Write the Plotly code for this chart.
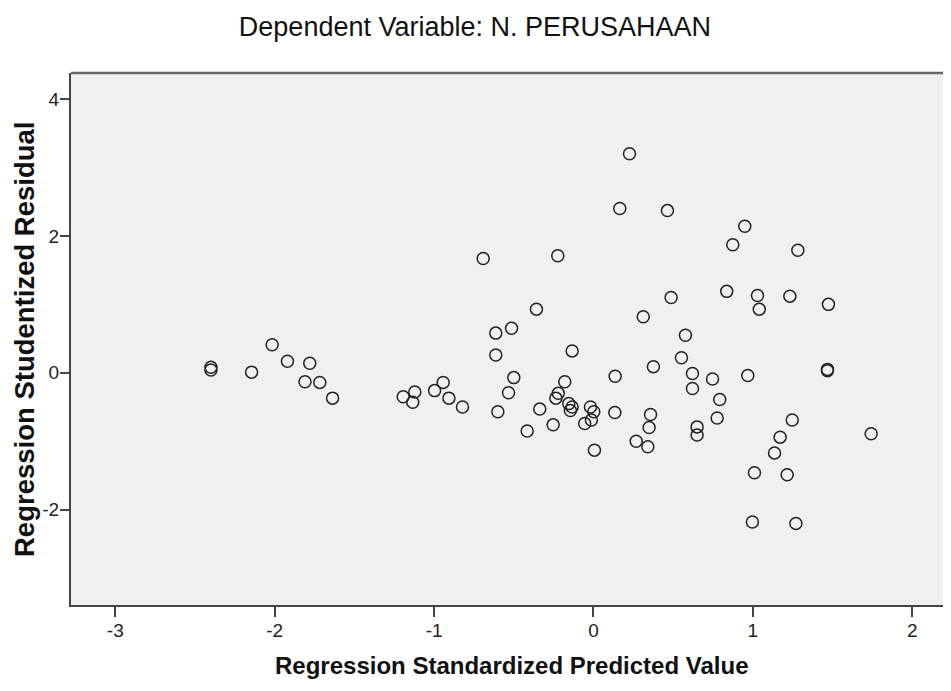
import plotly.graph_objects as go

# Regression Standardized Predicted Value (x) and Studentized Residual (y)
pred = [-2.40, -2.40, -2.145, -2.016, -1.92, -1.78, -1.81, -1.717, -1.637,
        -1.194, -1.121, -1.134, -0.997, -0.943, -0.907, -0.822,
        -0.613, -0.514, -0.613, -0.50, -0.533, -0.60, -0.416, -0.692,
        -0.224, -0.358, -0.134, -0.337, -0.253, -0.18, -0.221, -0.236,
        -0.155, -0.134, -0.145, -0.019, 0.002, -0.055, -0.013, 0.006,
        0.136, 0.134, 0.376, 0.358, 0.349, 0.268, 0.341, 0.552, 0.577,
        0.621, 0.621, 0.747, 0.792, 0.776, 0.65, 0.65, 0.968, 1.247,
        1.171, 1.136, 1.01, 1.215, 0.997, 1.27, 1.468, 1.468, 1.742,
        0.226, 0.165, 0.464, 0.949, 0.874, 1.282, 0.836, 1.029, 1.04,
        1.232, 1.474, 0.487, 0.312]
resid = [0.08, 0.04, 0.01, 0.41, 0.17, 0.14, -0.13, -0.14, -0.37,
         -0.35, -0.28, -0.43, -0.26, -0.14, -0.37, -0.50,
         0.58, 0.65, 0.26, -0.07, -0.29, -0.57, -0.85, 1.67,
         1.71, 0.93, 0.32, -0.53, -0.76, -0.13, -0.30, -0.37,
         -0.45, -0.50, -0.55, -0.50, -0.57, -0.74, -0.69, -1.13,
         -0.05, -0.58, 0.09, -0.61, -0.80, -1.00, -1.08, 0.22, 0.55,
         -0.01, -0.23, -0.09, -0.39, -0.66, -0.79, -0.91, -0.04, -0.69,
         -0.94, -1.17, -1.46, -1.49, -2.18, -2.20, 0.05, 0.03, -0.89,
         3.20, 2.40, 2.37, 2.14, 1.87, 1.79, 1.19, 1.13, 0.93,
         1.12, 1.00, 1.10, 0.82]

x_ticks = [-3, -2, -1, 0, 1, 2]
y_ticks = [-2, 0, 2, 4]

title_text = "Dependent Variable: N. PERUSAHAAN"
x_title = "Regression Standardized Predicted Value"
y_title = "Regression Studentized Residual"

FONT = "Liberation Sans, Arial, sans-serif"

fig = go.Figure()
fig.add_trace(go.Scatter(
    x=pred, y=resid, mode="markers",
    marker=dict(symbol="circle-open", size=12, color="#222222",
                line=dict(width=1.5, color="#222222")),
    hoverinfo="skip", showlegend=False))

# page body has an 8px margin: figure is 943x683 so it fits the 951x691 window
fig.update_layout(
    width=943, height=683,
    margin=dict(l=63, r=0, t=65, b=86),
    paper_bgcolor="white", plot_bgcolor="#f0f0f0",
    font=dict(family=FONT, color="#222222"),
    title=dict(text=title_text, xref="container", x=0.4952, xanchor="center",
               yref="container", y=0.973, yanchor="middle",
               font=dict(family=FONT, size=27, color="#111111")),
    xaxis=dict(range=[-3.278, 2.243], tickvals=x_ticks,
               ticktext=[str(v) for v in x_ticks],
               showgrid=False, zeroline=False,
               showline=True, linecolor="#444444", linewidth=2,
               ticks="outside", ticklen=10, tickwidth=1.5, tickcolor="#444444",
               ticklabelstandoff=-3,
               tickfont=dict(family=FONT, size=19, color="#222222")),
    yaxis=dict(range=[-3.392, 4.380], tickvals=y_ticks,
               ticktext=[str(v) for v in y_ticks],
               showgrid=False, zeroline=False,
               showline=True, linecolor="#444444", linewidth=2,
               ticks="outside", ticklen=9, tickwidth=1.5, tickcolor="#444444",
               ticklabelstandoff=-3,
               tickfont=dict(family=FONT, size=19, color="#222222")),
    annotations=[
        dict(text="<b>" + x_title + "</b>", xref="paper", yref="paper",
             x=0.5, y=-0.113, xanchor="center", yanchor="middle",
             showarrow=False, font=dict(family=FONT, size=24, color="#111111")),
        dict(text="<b>" + y_title + "</b>", xref="paper", yref="paper",
             x=-0.0534, y=0.5, xanchor="center", yanchor="middle",
             textangle=-90, showarrow=False,
             font=dict(family=FONT, size=27.5, color="#111111")),
    ],
    shapes=[dict(type="line", xref="paper", yref="paper",
                 x0=0, x1=1, y0=1, y1=1,
                 line=dict(color="#666666", width=2.5))],
)

fig.write_html("out.html")
